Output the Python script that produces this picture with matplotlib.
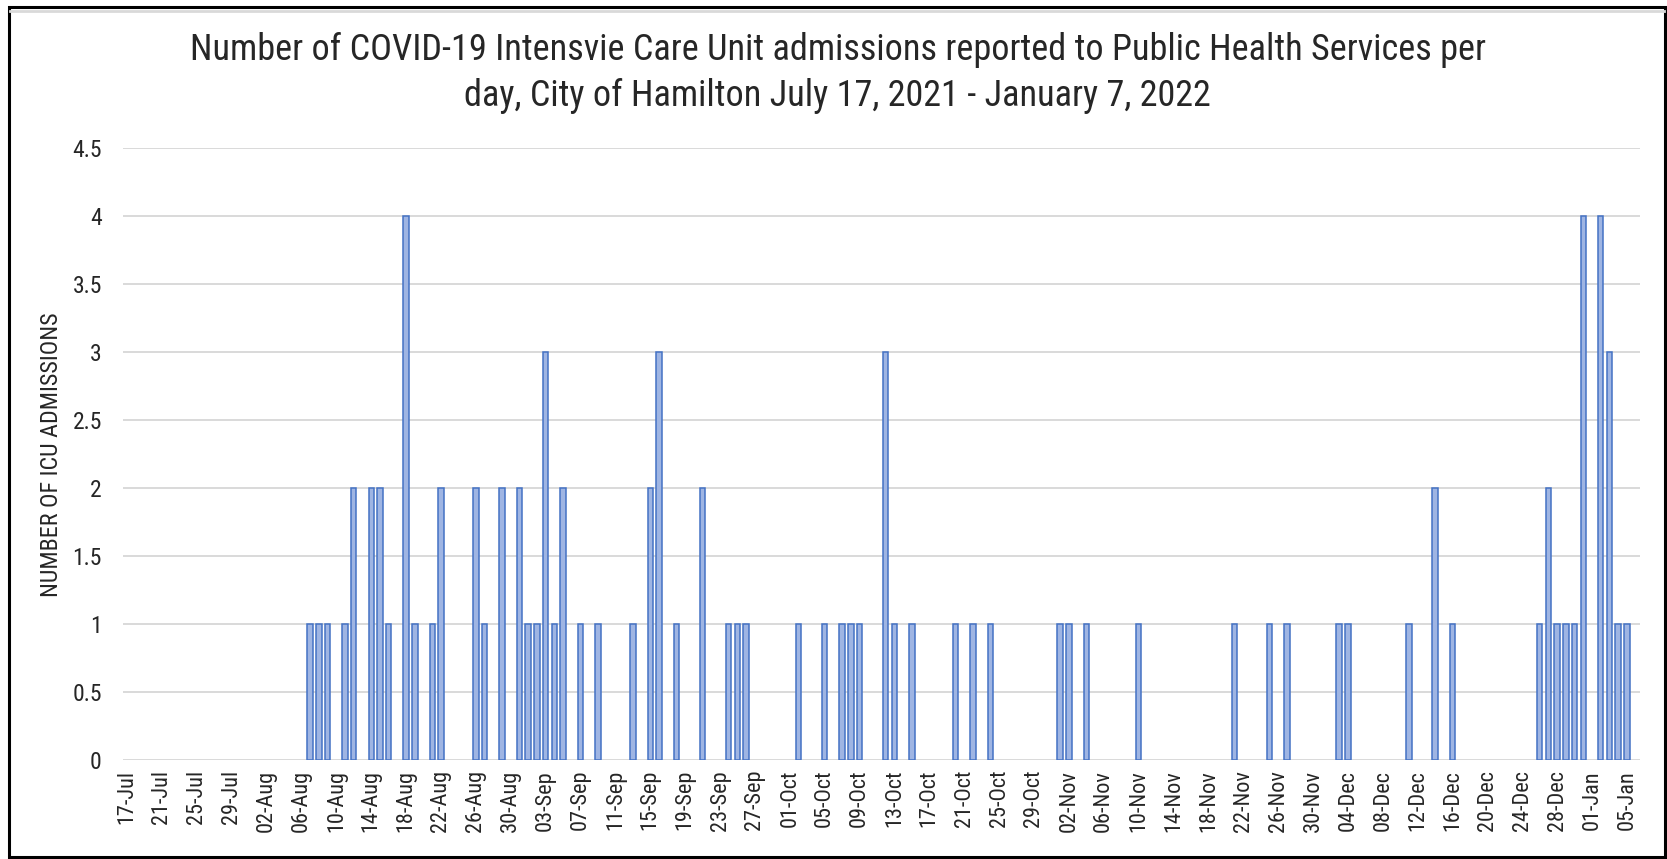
import matplotlib
matplotlib.use('Agg')
import matplotlib.pyplot as plt
import numpy as np
import pandas as pd
from matplotlib import font_manager as fm
from matplotlib.ticker import FuncFormatter, MultipleLocator
from matplotlib.patches import Rectangle
from matplotlib.lines import Line2D

title_line1 = "Number of COVID-19 Intensvie Care Unit admissions reported to Public Health Services per"
title_line2 = "day, City of Hamilton July 17, 2021 - January 7, 2022"
y_label = "NUMBER OF ICU ADMISSIONS"

start_date = "2021-07-17"
end_date = "2022-01-06"

# Daily ICU admissions, one value per day
jul_2021 = [0, 0, 0, 0, 0, 0, 0, 0, 0, 0, 0, 0, 0, 0, 0]  # Jul 17-31
aug_2021 = [0, 0, 0, 0, 0, 0, 1, 1, 1, 0, 1, 2, 0, 2, 2, 1,
            0, 4, 1, 0, 1, 2, 0, 0, 0, 2, 1, 0, 2, 0, 2]
sep_2021 = [1, 1, 3, 1, 2, 0, 1, 0, 1, 0, 0, 0, 1, 0, 2, 3,
            0, 1, 0, 0, 2, 0, 0, 1, 1, 1, 0, 0, 0, 0]
oct_2021 = [0, 1, 0, 0, 1, 0, 1, 1, 1, 0, 0, 3, 1, 0, 1, 0,
            0, 0, 0, 1, 0, 1, 0, 1, 0, 0, 0, 0, 0, 0, 0]
nov_2021 = [1, 1, 0, 1, 0, 0, 0, 0, 0, 1, 0, 0, 0, 0, 0, 0,
            0, 0, 0, 0, 1, 0, 0, 0, 1, 0, 1, 0, 0, 0]
dec_2021 = [0, 0, 1, 1, 0, 0, 0, 0, 0, 0, 1, 0, 0, 2, 0, 1,
            0, 0, 0, 0, 0, 0, 0, 0, 0, 1, 2, 1, 1, 1, 4]
jan_2022 = [0, 4, 3, 1, 1, 0]  # Jan 1-6

values = np.array(jul_2021 + aug_2021 + sep_2021 + oct_2021 + nov_2021 + dec_2021 + jan_2022)
dates = pd.date_range(start_date, end_date, freq="D")
assert len(dates) == len(values)

y_max = 4.5
y_step = 0.5
label_every = 4

# ---- pick a condensed font if one is installed ----
def find_narrow():
    prefs = ['Liberation Sans Narrow', 'Arial Narrow', 'Nimbus Sans Narrow',
             'Roboto Condensed', 'Open Sans Condensed', 'DejaVu Sans Condensed']
    lst = fm.fontManager.ttflist
    for p in prefs:
        for f in lst:
            if f.name == p and f.weight in (400, 'normal', 'regular') and f.style == 'normal':
                return f.fname
    for f in lst:
        fn = f.fname.lower()
        if ('condensed' in fn or 'narrow' in fn) and 'mono' not in fn and 'serif' not in fn \
                and 'bold' not in fn and 'oblique' not in fn and 'italic' not in fn \
                and 'light' not in fn and 'semi' not in fn and 'extra' not in fn and 'black' not in fn \
                and 'medium' not in fn and 'thin' not in fn:
            return f.fname
    return None

narrow_path = find_narrow()
if narrow_path:
    fp = fm.FontProperties(fname=narrow_path)
else:
    fp = fm.FontProperties(family=['Liberation Sans', 'DejaVu Sans'])

W, H = 1667, 859
fig = plt.figure(figsize=(W / 100, H / 100), dpi=100)
fig.patch.set_facecolor('white')

ax = fig.add_axes([122.7 / W, 1 - 760.2 / H, (1640 - 122.7) / W, (760.2 - 147.8) / H])
x = np.arange(len(values))
nz = values > 0
ax.bar(x[nz], values[nz], width=0.62, facecolor='#9FB5E3', edgecolor='#4472C4', linewidth=1.1, zorder=3)

ax.set_xlim(-0.5, len(values) - 0.5)
ax.set_ylim(0, y_max)
ax.yaxis.set_major_locator(MultipleLocator(y_step))
ax.yaxis.set_major_formatter(FuncFormatter(lambda v, p: f"{v:g}"))
ax.set_xticks(x[::label_every])
ax.set_xticklabels(dates[::label_every].strftime('%d-%b'), rotation=90)

ax.yaxis.grid(True, color='#D9D9D9', linewidth=1.4, zorder=0)
ax.set_axisbelow(True)
for s in ax.spines.values():
    s.set_visible(False)
ax.tick_params(axis='both', length=0)
ax.tick_params(axis='y', pad=15, labelcolor='#262626')
ax.tick_params(axis='x', pad=7, labelcolor='#262626')

narrow = narrow_path is not None
for lab in ax.get_yticklabels():
    lab.set_fontproperties(fp)
    lab.set_fontsize(17 if narrow else 15.5)
for lab in ax.get_xticklabels():
    lab.set_fontproperties(fp)
    lab.set_fontsize(16 if narrow else 14.5)

t1 = fig.text(837.5 / W, 1 - 50 / H, title_line1, ha='center', va='center', fontproperties=fp,
              fontsize=24, color='#262626')
t2 = fig.text(837.5 / W, 1 - 96 / H, title_line2, ha='center', va='center', fontproperties=fp,
              fontsize=24, color='#262626')
yl = fig.text(51 / W, 1 - 455 / H, y_label, rotation=90, ha='center', va='center', fontproperties=fp,
              fontsize=14, color='#262626')

# fit title width to the reference's line width (~1297 px)
renderer = fig.canvas.get_renderer()
w1 = t1.get_window_extent(renderer).width
size = 24 * 1297.0 / w1
t1.set_fontsize(size)
t2.set_fontsize(size)
# fit y label length (~287 px)
h = yl.get_window_extent(renderer).height
yl.set_fontsize(14 * 285.0 / h)

# outer frame
fig.add_artist(Rectangle((9 / W, 2 / H), (1665 - 9) / W, (852 - 2) / H, transform=fig.transFigure,
                         fill=False, edgecolor='black', linewidth=2.2))
fig.add_artist(Line2D([10 / W, 1664 / W], [1 - 11 / H, 1 - 11 / H], transform=fig.transFigure,
                      color='#D9D9D9', linewidth=2))

fig.savefig('out.png', dpi=100, facecolor='white')
